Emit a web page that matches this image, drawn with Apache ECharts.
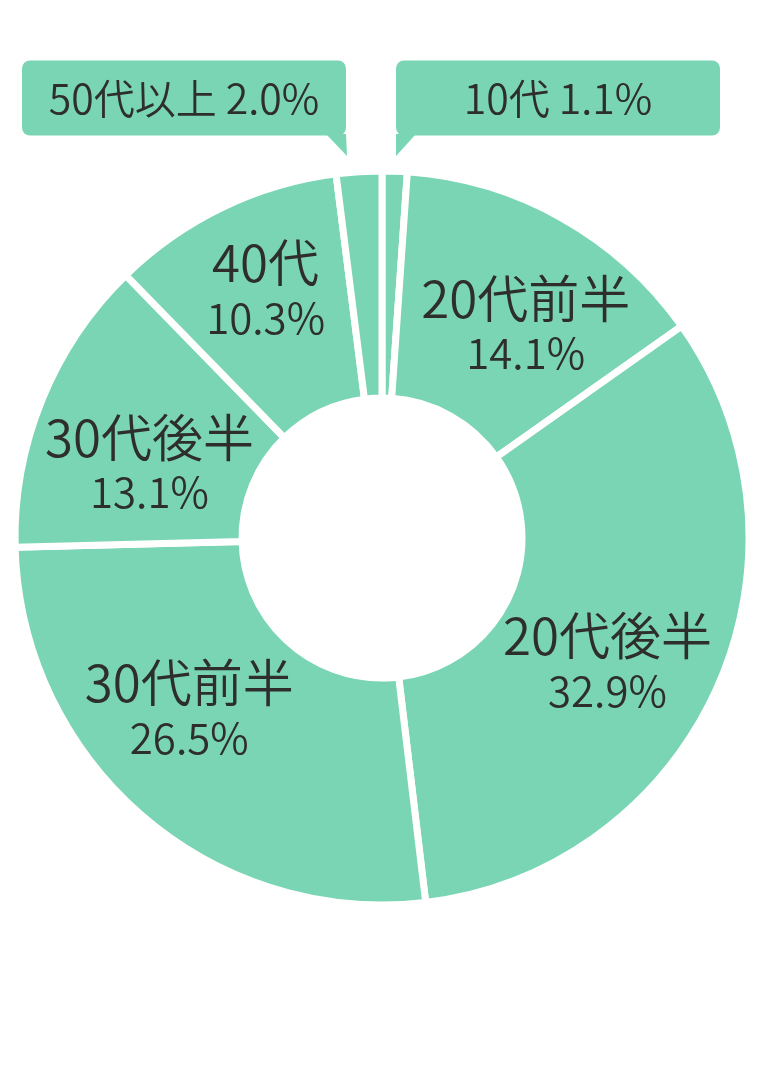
<!DOCTYPE html>
<html>
<head>
<meta charset="utf-8">
<script src="https://cdn.jsdelivr.net/npm/echarts@6/dist/echarts.min.js"></script>
<style>
  html, body { margin: 0; padding: 0; background: #fff; }
  #main { width: 758px; height: 1086px; }
</style>
</head>
<body>
<div id="main"></div>
<script>
var categories = ['10代', '20代前半', '20代後半', '30代前半', '30代後半', '40代', '50代以上'];
var shares = [1.1, 14.1, 32.9, 26.5, 13.1, 10.3, 2.0];

var green = '#7ad5b4';
var ink = '#2e2e2e';

// small nudges so the inside labels sit where the original puts them
var nudge = [[0, 0], [18, 10], [-9, 20], [-25, -23], [5, 22], [-5, -18], [0, 0]];

var chart = echarts.init(document.getElementById('main'));

var boxLabel = {
  position: 'inside',
  formatter: function (p) { return p.name + ' ' + p.value.toFixed(1) + '%'; },
  width: 324,
  height: 75,
  lineHeight: 75,
  align: 'center',
  backgroundColor: green,
  borderRadius: 8,
  fontSize: 41,
  fontWeight: 350,
  color: ink
};

var data = [];
for (var i = 0; i < categories.length; i++) {
  var item = { name: categories[i], value: shares[i] };
  if (shares[i] < 5) item.label = boxLabel;
  data.push(item);
}

var option = {
  backgroundColor: '#fff',
  textStyle: { fontFamily: '"Noto Sans CJK JP", "Noto Sans", sans-serif' },
  graphic: [
    // tails of the two callout boxes
    { type: 'polygon', shape: { points: [[326, 134], [346, 134], [347, 156]] }, style: { fill: green } },
    { type: 'polygon', shape: { points: [[396, 134], [416, 134], [396, 156]] }, style: { fill: green } }
  ],
  series: [{
    type: 'pie',
    center: [382, 538],
    radius: [140, 367],
    startAngle: 90,
    clockwise: true,
    avoidLabelOverlap: false,
    silent: true,
    itemStyle: { color: green, borderColor: '#fff', borderWidth: 7 },
    label: {
      position: 'inside',
      color: ink,
      formatter: function (p) {
        return '{n|' + p.name + '}\n{p|' + p.value.toFixed(1) + '%}';
      },
      rich: {
        n: { fontSize: 51, lineHeight: 58, color: ink, fontWeight: 350 },
        p: { fontSize: 42, lineHeight: 52, color: ink, fontWeight: 350 }
      }
    },
    labelLine: { show: false },
    labelLayout: function (p) {
      if (p.dataIndex === 0) return { x: 558, y: 98, align: 'center', verticalAlign: 'middle' };
      if (p.dataIndex === 6) return { x: 184, y: 98, align: 'center', verticalAlign: 'middle' };
      return { dx: nudge[p.dataIndex][0], dy: nudge[p.dataIndex][1] };
    },
    data: data
  }]
};

chart.setOption(option);
</script>
</body>
</html>
